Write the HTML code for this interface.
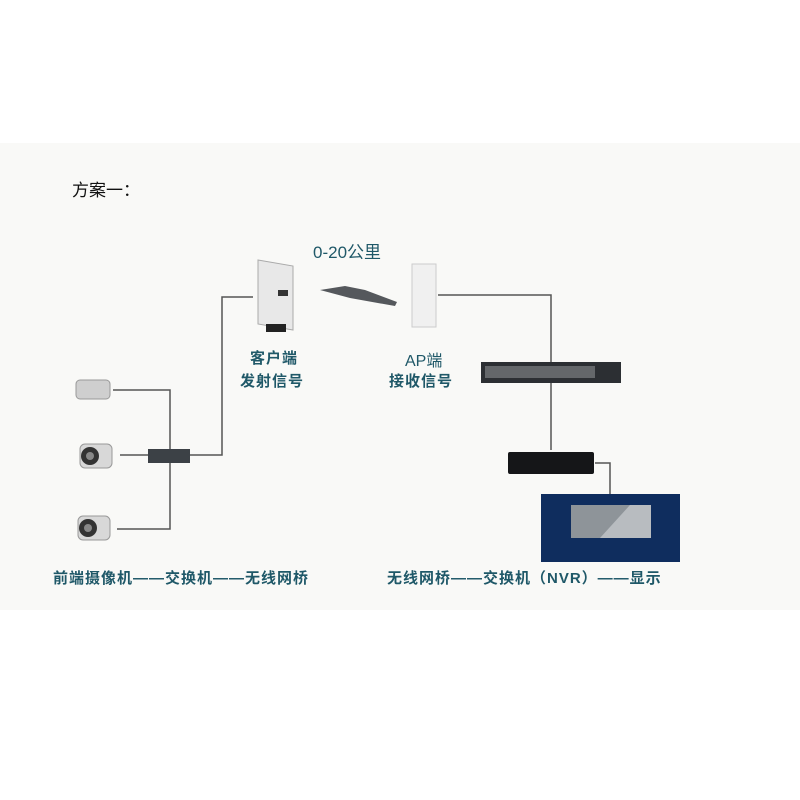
<!DOCTYPE html>
<html><head><meta charset="utf-8"><style>
body{margin:0;width:800px;height:800px;background:#fff;position:relative;overflow:hidden;font-family:"Liberation Sans","Noto Sans CJK SC",sans-serif}
.band{position:absolute;left:0;top:143px;width:800px;height:467px;background:#f9f9f7}
.t{position:absolute;color:#1f5868;font-size:15px;white-space:nowrap;letter-spacing:1px;font-weight:bold}
</style></head><body>
<div class="band"></div>
<div class="t" style="left:72px;top:176px;color:#111;font-size:17px;letter-spacing:0;font-weight:normal">方案一：</div>
<div class="t" style="left:313px;top:238px;font-size:17px;letter-spacing:0;font-weight:normal">0-20公里</div>
<div class="t" style="left:250px;top:347px">客户端</div>
<div class="t" style="left:240px;top:370px">发射信号</div>
<div class="t" style="left:405px;top:347px;font-size:16px;letter-spacing:0;font-weight:normal">AP端</div>
<div class="t" style="left:389px;top:370px">接收信号</div>
<div class="t" style="left:53px;top:567px">前端摄像机——交换机——无线网桥</div>
<div class="t" style="left:387px;top:567px">无线网桥——交换机（NVR）——显示</div>
<svg width="800" height="800" style="position:absolute;left:0;top:0">
<g stroke="#555" stroke-width="1.5" fill="none">
<polyline points="113,390 170,390 170,529 117,529"/>
<line x1="120" y1="455" x2="148" y2="455"/>
<polyline points="190,455 222,455 222,297 253,297"/>
<polyline points="438,295 551,295 551,450"/>
<polyline points="595,463 610,463 610,495"/>
</g>
<g>
<rect x="76" y="380" width="34" height="19" rx="4" fill="#cfcfcf" stroke="#999"/>
<rect x="80" y="444" width="32" height="24" rx="5" fill="#d8d8d8" stroke="#999"/>
<circle cx="90" cy="456" r="9" fill="#333"/><circle cx="90" cy="456" r="4" fill="#888"/>
<rect x="78" y="516" width="32" height="24" rx="5" fill="#d8d8d8" stroke="#999"/>
<circle cx="88" cy="528" r="9" fill="#333"/><circle cx="88" cy="528" r="4" fill="#888"/>
</g>
<rect x="148" y="449" width="42" height="14" fill="#3c4146"/>
<polygon points="258,260 293,266 293,330 258,324" fill="#e8e8e8" stroke="#aaa"/>
<rect x="278" y="290" width="10" height="6" fill="#333"/>
<rect x="266" y="324" width="20" height="8" fill="#222"/>
<polygon points="320,290 345,286 365,290 397,302 395,306 350,298" fill="#55585c"/>
<rect x="412" y="264" width="24" height="63" fill="#f0f0f0" stroke="#ccc"/>
<rect x="481" y="362" width="140" height="21" fill="#2c2f33"/>
<rect x="485" y="366" width="110" height="12" fill="#8a8d90" opacity=".6"/>
<rect x="508" y="452" width="86" height="22" rx="2" fill="#151618"/>
<rect x="541" y="494" width="139" height="68" fill="#0f2d5e"/>
<rect x="571" y="505" width="80" height="33" fill="#8e9499"/>
<polygon points="600,538 630,505 651,505 651,538" fill="#b8bcc0"/>
</svg>
</body></html>
